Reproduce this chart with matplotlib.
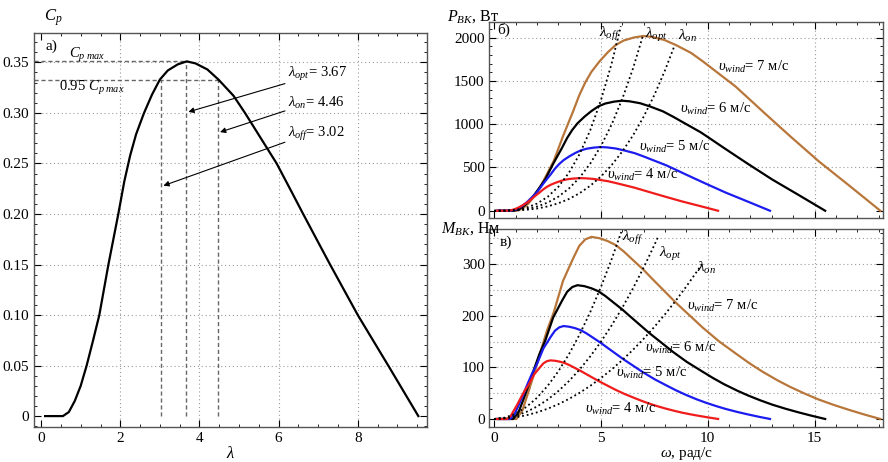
import matplotlib
matplotlib.use('Agg')
import matplotlib.pyplot as plt
from matplotlib.ticker import MultipleLocator, FixedLocator, FixedFormatter

plt.rcParams['font.family'] = ['Liberation Serif', 'DejaVu Serif']
plt.rcParams['mathtext.fontset'] = 'custom'
plt.rcParams['mathtext.rm'] = 'Liberation Serif'
plt.rcParams['mathtext.it'] = 'Liberation Serif:italic'
plt.rcParams['mathtext.bf'] = 'Liberation Serif:bold'
plt.rcParams['font.size'] = 10

# --- a) power coefficient vs tip speed ratio
lam = [0.1, 0.55, 0.7, 0.85, 1.0, 1.15, 1.3, 1.47, 1.70, 1.95, 2.10, 2.25, 2.40, 2.60, 2.80, 3.0,
       3.2, 3.45, 3.68, 3.9, 4.2, 4.48, 4.86, 5.15, 5.55, 5.95, 6.3, 6.62, 7.0, 7.30, 7.65, 8.0,
       8.4, 8.77, 9.15, 9.53]
cp = [0, 0, 0.004, 0.015, 0.030, 0.050, 0.073, 0.100, 0.150, 0.200, 0.232, 0.258, 0.279, 0.300,
      0.318, 0.333, 0.342, 0.348, 0.351, 0.349, 0.343, 0.333, 0.317, 0.300, 0.275, 0.250, 0.224,
      0.200, 0.172, 0.150, 0.125, 0.100, 0.074, 0.050, 0.025, 0.0]
lam_off, lam_opt, lam_on = 3.02, 3.67, 4.46
cp_max, cp_95 = 0.351, 0.333
cp_ticks = [0, 0.05, 0.10, 0.15, 0.20, 0.25, 0.30, 0.35]
cp_tick_labels = ['0', '0.05', '0.10', '0.15', '0.20', '0.25', '0.30', '0.35']

# --- б), в) rotor speed, rad/s, for each wind speed
w4 = [0.11, 0.605, 0.77, 0.935, 1.10, 1.265, 1.43, 1.617, 1.87, 2.145, 2.31, 2.475, 2.64, 2.86,
      3.08, 3.30, 3.52, 3.795, 4.048, 4.29, 4.62, 4.928, 5.346, 5.665, 6.105, 6.545, 6.93, 7.282,
      7.70, 8.03, 8.415, 8.80, 9.24, 9.647, 10.065, 10.483]
w5 = [0.136, 0.745, 0.949, 1.152, 1.355, 1.558, 1.762, 1.992, 2.304, 2.642, 2.846, 3.049, 3.252,
      3.523, 3.794, 4.065, 4.336, 4.675, 4.986, 5.285, 5.691, 6.070, 6.585, 6.978, 7.520, 8.062,
      8.537, 8.970, 9.485, 9.892, 10.366, 10.840, 11.382, 11.883, 12.398, 12.913]
w6 = [0.163, 0.894, 1.138, 1.382, 1.626, 1.870, 2.114, 2.390, 2.764, 3.171, 3.415, 3.659, 3.902,
      4.228, 4.553, 4.878, 5.203, 5.610, 5.984, 6.341, 6.829, 7.284, 7.902, 8.374, 9.024, 9.675,
      10.244, 10.764, 11.382, 11.870, 12.439, 13.008, 13.658, 14.260, 14.878, 15.496]
w7 = [0.190, 1.043, 1.328, 1.612, 1.897, 2.182, 2.466, 2.789, 3.225, 3.699, 3.984, 4.268, 4.553,
      4.932, 5.312, 5.691, 6.070, 6.545, 6.981, 7.398, 7.967, 8.499, 9.219, 9.770, 10.528, 11.287,
      11.951, 12.558, 13.279, 13.848, 14.512, 15.176, 15.935, 16.637, 17.358, 18.078]

# power, W
p4 = [0, 0, 4.3, 16.1, 32.2, 53.7, 78.4, 107.4, 161.1, 214.8, 249.2, 277.1, 299.6, 322.2, 341.5,
      357.6, 367.3, 373.8, 377.0, 374.8, 368.4, 357.6, 340.5, 322.2, 295.4, 268.5, 240.6, 214.8,
      184.7, 161.1, 134.3, 107.4, 79.5, 53.7, 26.9, 0]
p5 = [0, 0, 8.4, 31.5, 62.9, 104.9, 153.2, 209.8, 314.7, 419.6, 486.7, 541.3, 585.3, 629.4, 667.2,
      698.6, 717.5, 730.1, 736.4, 732.2, 719.6, 698.6, 665.1, 629.4, 577.0, 524.5, 470.0, 419.6,
      360.9, 314.7, 262.3, 209.8, 155.3, 104.9, 52.5, 0]
p6 = [0, 0, 14.5, 54.4, 108.7, 181.2, 264.6, 362.4, 543.6, 724.8, 840.8, 935.0, 1011.1, 1087.2,
      1152.4, 1206.8, 1239.4, 1261.2, 1272.0, 1264.8, 1243.0, 1206.8, 1148.8, 1087.2, 996.6, 906.0,
      811.8, 724.8, 623.3, 543.6, 453.0, 362.4, 268.2, 181.2, 90.6, 0]
p7 = [0, 0, 23.0, 86.3, 172.7, 287.8, 420.1, 575.5, 863.3, 1151.0, 1335.2, 1484.8, 1605.6, 1726.5,
      1830.1, 1916.4, 1968.2, 2002.7, 2020.0, 2008.5, 1974.0, 1916.4, 1824.3, 1726.5, 1582.6,
      1438.8, 1289.1, 1151.0, 989.9, 863.3, 719.4, 575.5, 425.9, 287.8, 143.9, 0]

# torque, N*m
m4 = [0, 0, 5.6, 17.2, 29.3, 42.5, 54.8, 66.4, 86.2, 100.1, 107.9, 112.0, 113.5, 112.7, 110.9,
      108.4, 104.4, 98.5, 93.1, 87.4, 79.7, 72.6, 63.7, 56.9, 48.4, 41.0, 34.7, 29.5, 24.0, 20.1,
      16.0, 12.2, 8.6, 5.6, 2.7, 0]
m5 = [0, 0, 8.8, 27.3, 46.4, 67.3, 86.9, 105.3, 136.6, 158.8, 171.0, 177.5, 180.0, 178.6, 175.8,
      171.8, 165.4, 156.1, 147.6, 138.5, 126.4, 115.1, 101.0, 90.2, 76.7, 65.0, 55.0, 46.8, 38.0,
      31.8, 25.3, 19.4, 13.6, 8.8, 4.2, 0]
m6 = [0, 0, 12.7, 39.3, 66.9, 96.9, 125.2, 151.6, 196.7, 228.6, 246.3, 255.6, 259.1, 257.2, 253.1,
      247.4, 238.2, 224.8, 212.6, 199.5, 182.0, 165.7, 145.4, 129.8, 110.4, 93.7, 79.3, 67.3, 54.8,
      45.8, 36.4, 27.9, 19.6, 12.7, 6.1, 0]
m7 = [0, 0, 17.3, 53.5, 91.0, 131.9, 170.4, 206.4, 267.7, 311.2, 335.2, 347.9, 352.7, 350.1, 344.6,
      336.8, 324.3, 306.0, 289.4, 271.5, 247.8, 225.5, 197.9, 176.7, 150.3, 127.5, 107.9, 91.7,
      74.5, 62.3, 49.6, 37.9, 26.7, 17.3, 8.3, 0]

# constant-lambda loci on the power plot
off_w = [0, 0.5, 1, 1.5, 2, 2.5, 3, 3.5, 4, 4.5, 5, 5.5, 5.93]
off_p = [0, 1.3, 10, 35, 82, 160, 276, 439, 655, 932, 1279, 1702, 2133]
opt_w = [0, 0.5, 1, 1.5, 2, 2.5, 3, 3.5, 4, 4.5, 5, 5.5, 6, 6.5, 6.95]
opt_p = [0, 0.7, 6, 20, 48, 94, 162, 257, 383, 546, 749, 997, 1294, 1645, 2011]
on_w = [0, 0.5, 1, 1.5, 2, 2.5, 3, 3.5, 4, 4.5, 5, 5.5, 6, 6.5, 7, 7.5, 8, 8.45]
on_p = [0, 0.4, 3, 11, 25, 50, 86, 136, 203, 289, 396, 528, 685, 871, 1088, 1338, 1624, 1913]

# constant-lambda loci on the torque plot
off_wm = [0, 0.5, 1, 1.5, 2, 2.5, 3, 3.5, 4, 4.5, 5, 5.5, 5.95]
off_m = [0, 2.6, 10.2, 23.0, 40.9, 63.9, 92.1, 125.3, 163.7, 207.2, 255.8, 309.5, 362.2]
opt_wm = [0, 0.5, 1, 1.5, 2, 2.5, 3, 3.5, 4, 4.5, 5, 5.5, 6, 6.5, 7, 7.5, 7.7]
opt_m = [0, 1.5, 6.0, 13.5, 24.0, 37.4, 53.9, 73.4, 95.8, 121.3, 149.8, 181.2, 215.6, 253.1, 293.5,
         336.9, 355.1]
on_wm = [0, 1, 1.5, 2, 2.5, 3, 3.5, 4, 4.5, 5, 5.5, 6, 6.5, 7, 7.5, 8, 8.5, 9, 9.5, 9.75]
on_m = [0, 3.2, 7.1, 12.7, 19.8, 28.5, 38.8, 50.7, 64.2, 79.3, 95.9, 114.2, 134.0, 155.4, 178.4, 202.9,
        229.1, 256.9, 286.2, 301.4]

c7, c6, c5, c4 = '#b8763a', 'black', '#1c1cf0', '#f01c1c'
grid_kw = dict(color='#9a9a9a', linestyle=(0, (1, 2.5)), linewidth=0.8)


def frame(ax):
    ax.tick_params(which='both', direction='in', top=True, right=True, labelsize=11)
    ax.tick_params(which='major', length=5, width=0.8)
    ax.tick_params(which='minor', length=2.5, width=0.6)
    for s in ax.spines.values():
        s.set_color('#555555')
        s.set_linewidth(1.0)


fig = plt.figure(figsize=(8.88, 4.62), dpi=100)

# ---------------- left: Cp(lambda)
ax1 = fig.add_axes([0.0383, 0.0764, 0.4426, 0.852])
for y in cp_ticks[1:]:
    ax1.axhline(y, **grid_kw, zorder=0)
for x in [2, 4, 6, 8]:
    ax1.axvline(x, **grid_kw, zorder=0)
dash_kw = dict(color='#666666', linestyle=(0, (3, 2)), linewidth=1.0, zorder=1)
ax1.plot([-0.18, lam_opt], [cp_max, cp_max], **dash_kw)
ax1.plot([-0.18, lam_on], [cp_95, cp_95], **dash_kw)
ax1.plot([lam_off, lam_off], [0, cp_95], **dash_kw)
ax1.plot([lam_opt, lam_opt], [0, cp_max], **dash_kw)
ax1.plot([lam_on, lam_on], [0, cp_95], **dash_kw)
ax1.plot(lam, cp, color='black', lw=1.6, zorder=3)

ax1.set_xlim(-0.18, 9.75)
ax1.set_ylim(-0.0105, 0.379)
ax1.xaxis.set_major_locator(MultipleLocator(2))
ax1.xaxis.set_minor_locator(MultipleLocator(0.5))
ax1.yaxis.set_major_locator(FixedLocator(cp_ticks))
ax1.yaxis.set_major_formatter(FixedFormatter(cp_tick_labels))
ax1.yaxis.set_minor_locator(MultipleLocator(0.01))
frame(ax1)
ax1.set_xlabel(r'$\lambda$', fontsize=12, labelpad=1)

ax1.text(0.1, 0.366, 'a)', fontsize=11, va='center')
ax1.text(0.7, 0.3575, r'$C_{p\ max}$', fontsize=10.5, va='center')
ax1.text(0.45, 0.3245, r'0.95 $C_{p\ max}$', fontsize=10.5, va='center')
arrow_kw = dict(arrowstyle='-|>', color='black', lw=0.8, mutation_scale=8, shrinkA=0, shrinkB=0)
ax1.text(6.24, 0.339, r'$\lambda_{opt}$= 3.67', fontsize=10.5, va='center')
ax1.annotate('', xy=(3.72, 0.301), xytext=(6.16, 0.329), arrowprops=arrow_kw)
ax1.text(6.24, 0.310, r'$\lambda_{on}$= 4.46', fontsize=10.5, va='center')
ax1.annotate('', xy=(4.52, 0.281), xytext=(6.16, 0.302), arrowprops=arrow_kw)
ax1.text(6.24, 0.279, r'$\lambda_{off}$= 3.02', fontsize=10.5, va='center')
ax1.annotate('', xy=(3.09, 0.228), xytext=(6.16, 0.271), arrowprops=arrow_kw)
fig.text(0.049, 0.962, r'$C_p$', fontsize=12, va='center')

# ---------------- right top: power
ax2 = fig.add_axes([0.5512, 0.5281, 0.4431, 0.4249])
for y in [500, 1000, 1500, 2000]:
    ax2.axhline(y, **grid_kw, zorder=0)
for x in [5, 10, 15]:
    ax2.axvline(x, **grid_kw, zorder=0)
ax2.plot(w7, p7, color=c7, lw=1.6)
ax2.plot(w6, p6, color=c6, lw=1.6)
ax2.plot(w5, p5, color=c5, lw=1.6)
ax2.plot(w4, p4, color=c4, lw=1.6)
dot_kw = dict(color='black', linestyle=(0, (1, 1.6)), lw=1.3, zorder=4)
ax2.plot(off_w, off_p, **dot_kw)
ax2.plot(opt_w, opt_p, **dot_kw)
ax2.plot(on_w, on_p, **dot_kw)
ax2.set_xlim(-0.22, 18.2)
ax2.set_ylim(-84, 2185)
ax2.xaxis.set_major_locator(MultipleLocator(5))
ax2.xaxis.set_minor_locator(MultipleLocator(1))
ax2.yaxis.set_major_locator(MultipleLocator(500))
ax2.yaxis.set_minor_locator(MultipleLocator(100))
frame(ax2)
ax2.tick_params(labelbottom=False)
ax2.text(0.15, 2090, 'б)', fontsize=11, va='center')
ax2.text(4.9, 2040, r'$\lambda_{off}$', fontsize=11, va='center')
ax2.text(7.05, 2030, r'$\lambda_{opt}$', fontsize=11, va='center')
ax2.text(8.6, 2017, r'$\lambda_{on}$', fontsize=11, va='center')
ax2.text(10.5, 1660, r'$\upsilon_{wind}$= 7 м/с', fontsize=10.5, va='center')
ax2.text(8.7, 1180, r'$\upsilon_{wind}$= 6 м/с', fontsize=10.5, va='center')
ax2.text(6.8, 740, r'$\upsilon_{wind}$= 5 м/с', fontsize=10.5, va='center')
ax2.text(5.3, 410, r'$\upsilon_{wind}$= 4 м/с', fontsize=10.5, va='center')
fig.text(0.503, 0.965, r'$P_{ВК}$, Вт', fontsize=11.5, va='center')

# ---------------- right bottom: torque
ax3 = fig.add_axes([0.5512, 0.0758, 0.4431, 0.4286])
for y in [50, 100, 150, 200, 250, 300, 350]:
    ax3.axhline(y, **grid_kw, zorder=0)
for x in [5, 10, 15]:
    ax3.axvline(x, **grid_kw, zorder=0)
ax3.plot(w7, m7, color=c7, lw=1.6)
ax3.plot(w6, m6, color=c6, lw=1.6)
ax3.plot(w5, m5, color=c5, lw=1.6)
ax3.plot(w4, m4, color=c4, lw=1.6)
ax3.plot(off_wm, off_m, **dot_kw)
ax3.plot(opt_wm, opt_m, **dot_kw)
ax3.plot(on_wm, on_m, **dot_kw)
ax3.set_xlim(-0.22, 18.2)
ax3.set_ylim(-15.5, 368)
ax3.xaxis.set_major_locator(MultipleLocator(5))
ax3.xaxis.set_minor_locator(MultipleLocator(1))
ax3.yaxis.set_major_locator(MultipleLocator(100))
ax3.yaxis.set_minor_locator(MultipleLocator(20))
frame(ax3)
ax3.set_xlabel(r'$\omega$, рад/с', fontsize=11, labelpad=0)
ax3.text(0.25, 343, 'в)', fontsize=11, va='center')
ax3.text(6.0, 350, r'$\lambda_{off}$', fontsize=11, va='center')
ax3.text(7.7, 320, r'$\lambda_{opt}$', fontsize=11, va='center')
ax3.text(9.5, 292, r'$\lambda_{on}$', fontsize=11, va='center')
ax3.text(9.05, 218, r'$\upsilon_{wind}$= 7 м/с', fontsize=10.5, va='center')
ax3.text(7.05, 137, r'$\upsilon_{wind}$= 6 м/с', fontsize=10.5, va='center')
ax3.text(5.7, 90, r'$\upsilon_{wind}$= 5 м/с', fontsize=10.5, va='center')
ax3.text(4.25, 20, r'$\upsilon_{wind}$= 4 м/с', fontsize=10.5, va='center')
fig.text(0.497, 0.506, r'$M_{ВК}$, Нм', fontsize=11.5, va='center')

fig.savefig('out.png', dpi=100)
